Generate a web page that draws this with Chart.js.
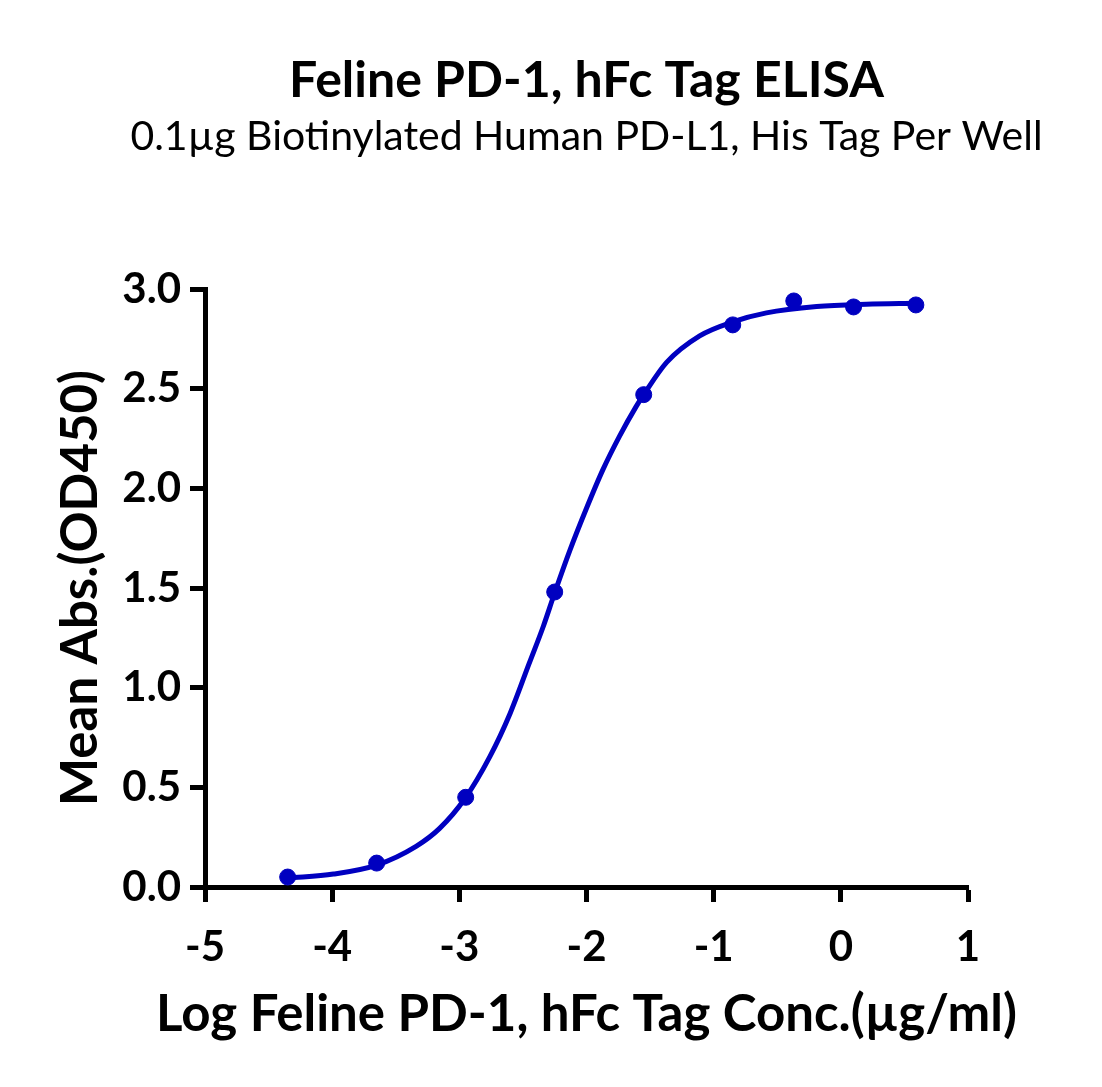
<!DOCTYPE html>
<html lang="en">
<head>
  <meta charset="UTF-8">
  <title>Feline PD-1, hFc Tag ELISA</title>
  <script src="https://cdn.jsdelivr.net/npm/chart.js"></script>
  <style>
    * { box-sizing: border-box; }
    body { margin: 0; background: #fff; }
    #wrap { width: 1102px; height: 1087px; }
  </style>
</head>
<body>
  <div id="wrap"><canvas id="elisaChart" width="1102" height="1087"></canvas></div>

  <script>
    // measured points: log conc. vs mean OD450
    const logConc = [-4.35, -3.65, -2.95, -2.25, -1.55, -0.85, -0.37, 0.10, 0.59];
    const meanAbs = [0.05, 0.12, 0.45, 1.48, 2.47, 2.82, 2.94, 2.91, 2.92];

    // fitted curve
    const fitX = [-4.35, -3.99, -3.65, -3.34, -3.155, -2.96, -2.76, -2.60, -2.45, -2.34, -2.25, -2.13,
                  -2.00, -1.87, -1.74, -1.61, -1.55, -1.37, -1.11, -0.85, -0.585, -0.19, 0.20, 0.59];
    const fitY = [0.045, 0.065, 0.11, 0.204, 0.294, 0.44, 0.654, 0.872, 1.123, 1.307, 1.476, 1.69,
                  1.90, 2.095, 2.262, 2.41, 2.47, 2.632, 2.765, 2.835, 2.88, 2.912, 2.924, 2.929];

    const xTicks = ['-5', '-4', '-3', '-2', '-1', '0', '1'];
    const yTicks = ['0.0', '0.5', '1.0', '1.5', '2.0', '2.5', '3.0'];

    const titleText = 'Feline PD-1, hFc Tag ELISA';
    const subtitleText = '0.1µg Biotinylated Human PD-L1, His Tag Per Well';
    const xTitle = 'Log Feline PD-1, hFc Tag Conc.(µg/ml)';
    const yTitle = 'Mean Abs.(OD450)';

    const blue = '#0000C0';
    const FONT = 'Lato';

    const toPoints = (xs, ys) => xs.map((x, i) => ({ x: x, y: ys[i] }));

    // title, subtitle and x title centred over the plot area;
    // the x title is wider than the plot so Chart.js would squash it
    const textPlugin = {
      id: 'texts',
      afterDraw(chart) {
        const { ctx, chartArea } = chart;
        const cx = (chartArea.left + chartArea.right) / 2;
        ctx.save();
        ctx.fillStyle = '#000';
        ctx.textAlign = 'center';
        ctx.textBaseline = 'alphabetic';
        ctx.font = `bold 50px ${FONT}`;
        ctx.fillText(titleText, cx, 97);
        ctx.font = `normal 41px ${FONT}`;
        ctx.fillText(subtitleText, cx, 150);
        ctx.font = `bold 51px ${FONT}`;
        ctx.fillText(xTitle, cx, 1031);
        ctx.restore();
      }
    };

    const axisStyle = {
      border: { display: true, color: '#000', width: 5 },
      grid: { drawOnChartArea: false, drawTicks: true, tickLength: 15, tickWidth: 5, tickColor: '#000' }
    };

    new Chart(document.getElementById('elisaChart').getContext('2d'), {
      type: 'scatter',
      data: {
        datasets: [
          {
            data: toPoints(fitX, fitY),
            showLine: true,
            borderColor: blue,
            borderWidth: 5,
            pointRadius: 0,
            cubicInterpolationMode: 'monotone',
            clip: false
          },
          {
            data: toPoints(logConc, meanAbs),
            showLine: false,
            backgroundColor: blue,
            borderColor: blue,
            borderWidth: 1,
            pointRadius: 8,
            clip: false
          }
        ]
      },
      options: {
        responsive: false,
        animation: false,
        layout: { padding: { left: 0, right: 134, top: 289, bottom: 0 } },
        plugins: {
          legend: { display: false },
          tooltip: { enabled: false },
          title: { display: false }
        },
        scales: {
          x: {
            type: 'linear',
            min: -5,
            max: 1,
            ...axisStyle,
            afterFit: (scale) => { scale.height = 200; },
            ticks: {
              stepSize: 1,
              color: '#000',
              padding: 20,
              font: { family: FONT, size: 42, weight: 'bold' },
              callback: (v) => xTicks[Math.round(v) + 5]
            },
            title: { display: false }
          },
          y: {
            type: 'linear',
            min: 0,
            max: 3,
            ...axisStyle,
            afterFit: (scale) => { scale.width = 205; },
            ticks: {
              stepSize: 0.5,
              color: '#000',
              padding: 9,
              font: { family: FONT, size: 42, weight: 'bold' },
              callback: (v) => yTicks[Math.round(v * 2)]
            },
            title: {
              display: true,
              text: yTitle,
              color: '#000',
              font: { family: FONT, size: 51, weight: 'bold' },
              padding: { top: 50, bottom: 0 }
            }
          }
        }
      },
      plugins: [textPlugin]
    });
  </script>
</body>
</html>
